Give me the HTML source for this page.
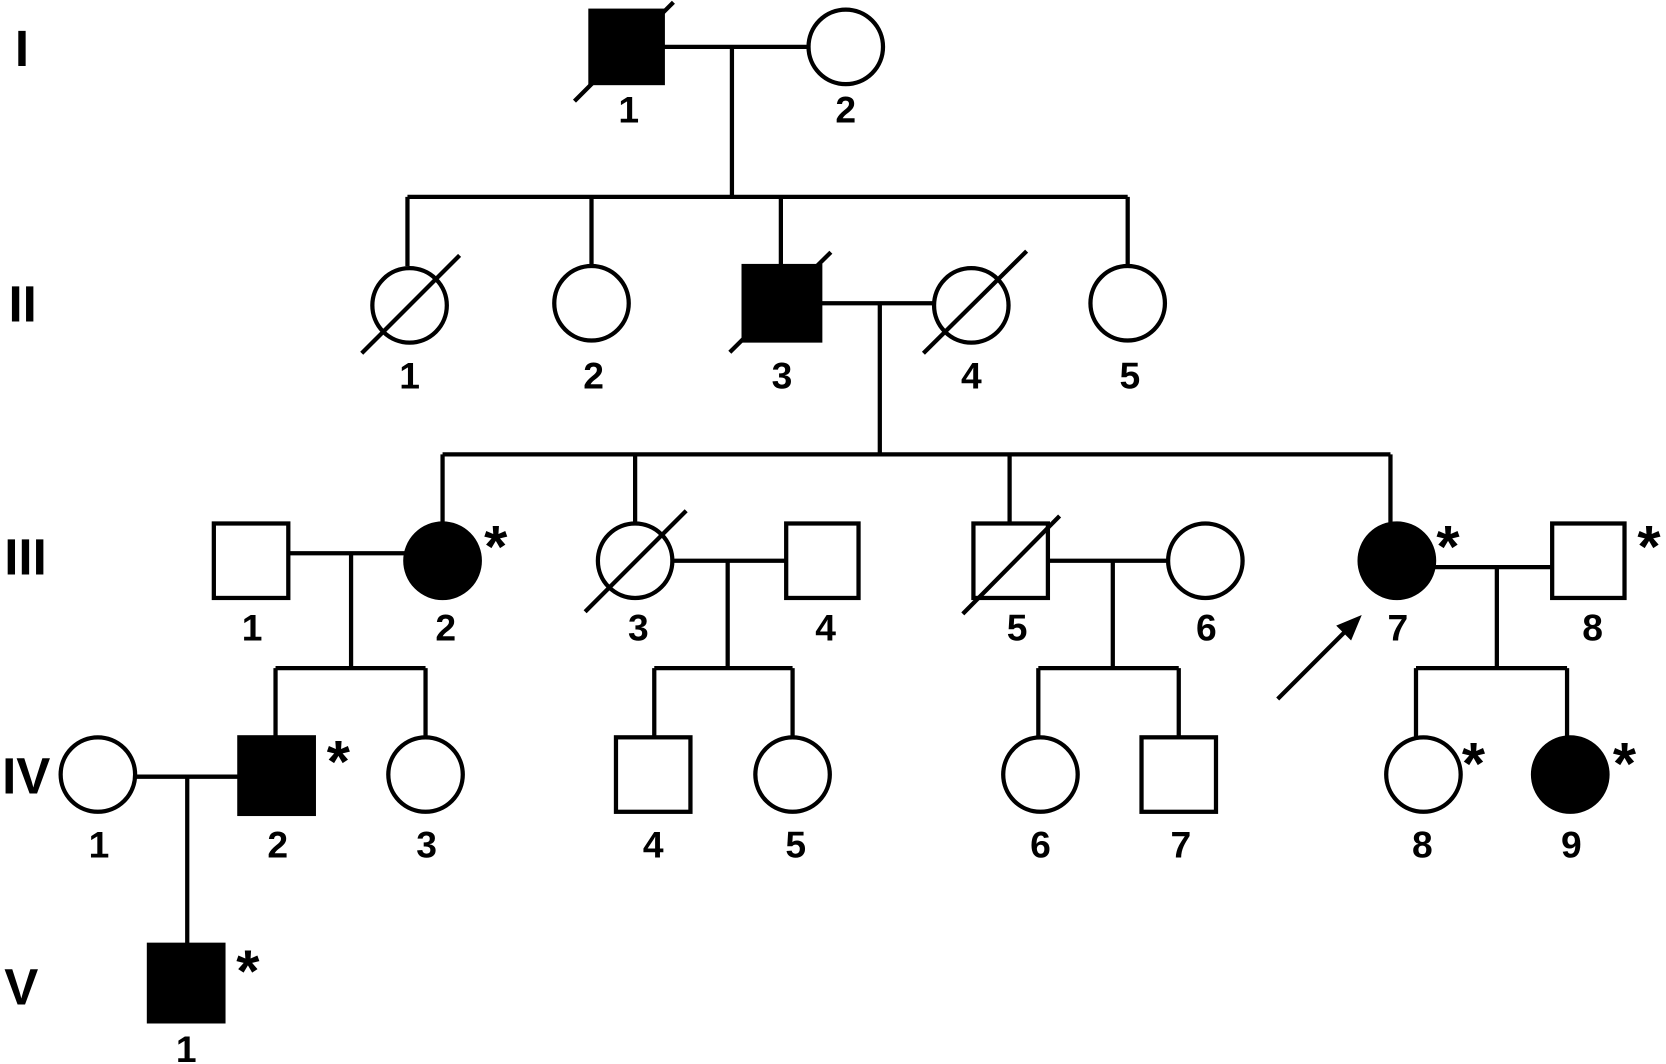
<!DOCTYPE html>
<html><head><meta charset="utf-8"><style>html,body{margin:0;padding:0;background:#fff}svg{display:block}</style></head>
<body>
<svg width="1666" height="1064" viewBox="0 0 1566 1000" xmlns="http://www.w3.org/2000/svg">
<g stroke="#000" stroke-width="4" fill="none">
<path d="M623 44H760 M688 44V185 M383 185H1060 M383 185V250 M556 185V250 M734 185V250 M1060 185V250"/>
<line x1="540" y1="95" x2="633" y2="2"/>
<rect x="555" y="10" width="68" height="68" fill="#000"/>
<circle cx="795" cy="44" r="35" fill="#fff"/>
<path d="M771 285H878 M827 285V427 M416 427H1307 M416 427V492 M597 427V492 M949 427V493 M1307 427V492"/>
<circle cx="385" cy="287" r="35" fill="#fff"/><line x1="340" y1="332" x2="432" y2="240"/>
<circle cx="556" cy="285" r="35" fill="#fff"/>
<line x1="686" y1="331" x2="781" y2="237"/>
<rect x="699" y="250" width="72" height="70" fill="#000"/>
<circle cx="913" cy="287" r="35" fill="#fff"/><line x1="868" y1="332" x2="965" y2="236"/>
<circle cx="1060" cy="285" r="35" fill="#fff"/>
<path d="M271 520H381 M330 520V628 M632 527H739 M684 527V628 M985 527H1098 M1046 527V628 M1348 533H1459 M1407 533V628"/>
<rect x="201" y="492" width="70" height="70" fill="#fff"/>
<circle cx="416" cy="527" r="35" fill="#000"/>
<circle cx="597" cy="527" r="35" fill="#fff"/><line x1="550" y1="575" x2="645" y2="480"/>
<rect x="739" y="492" width="68" height="70" fill="#fff"/>
<rect x="915" y="492" width="70" height="70" fill="#fff"/><line x1="905" y1="577" x2="996" y2="485"/>
<circle cx="1133" cy="527" r="35" fill="#fff"/>
<circle cx="1313" cy="527" r="35" fill="#000"/>
<rect x="1459" y="492" width="68" height="70" fill="#fff"/>
<path d="M259 628H400 M259 628V693 M400 628V693 M615 628H745 M615 628V693 M745 628V693 M976 628H1108 M976 628V693 M1108 628V693 M1331 628H1473 M1331 628V693 M1473 628V693"/>
<path d="M127 730H225 M176 730V888"/>
<circle cx="92" cy="728" r="35" fill="#fff"/>
<rect x="225" y="693" width="70" height="72" fill="#000"/>
<circle cx="400" cy="728" r="35" fill="#fff"/>
<rect x="579" y="693" width="70" height="70" fill="#fff"/>
<circle cx="745" cy="728" r="35" fill="#fff"/>
<circle cx="978" cy="728" r="35" fill="#fff"/>
<rect x="1073" y="693" width="70" height="70" fill="#fff"/>
<circle cx="1338" cy="728" r="35" fill="#fff"/>
<circle cx="1476" cy="728" r="35" fill="#000"/>
<rect x="140" y="888" width="70" height="72" fill="#000"/>
<line x1="1201" y1="657" x2="1266" y2="592"/>
</g>
<polygon points="1280,578 1256,588 1270,602" fill="#000"/>
<g font-family="Liberation Sans, sans-serif" font-weight="bold" font-size="48">
<text x="14" y="62">I</text><text x="8" y="302">II</text><text x="4" y="540">III</text><text x="2" y="746">IV</text><text x="4" y="944">V</text>
</g>
<g font-family="Liberation Sans, sans-serif" font-weight="bold" font-size="35" text-anchor="middle">
<text x="591" y="115">1</text><text x="795" y="115">2</text>
<text x="385" y="365">1</text><text x="558" y="365">2</text><text x="735" y="365">3</text><text x="913" y="365">4</text><text x="1062" y="365">5</text>
<text x="237" y="602">1</text><text x="419" y="602">2</text><text x="600" y="602">3</text><text x="776" y="602">4</text><text x="956" y="602">5</text><text x="1134" y="602">6</text><text x="1314" y="602">7</text><text x="1497" y="602">8</text>
<text x="93" y="806">1</text><text x="261" y="806">2</text><text x="401" y="806">3</text><text x="614" y="806">4</text><text x="748" y="806">5</text><text x="978" y="806">6</text><text x="1110" y="806">7</text><text x="1337" y="806">8</text><text x="1477" y="806">9</text>
<text x="175" y="998">1</text>
</g>
<g font-family="Liberation Sans, sans-serif" font-weight="bold" font-size="56" text-anchor="middle">
<text x="466" y="533">*</text><text x="1361" y="533">*</text><text x="1550" y="533">*</text>
<text x="318" y="735">*</text><text x="1385" y="737">*</text><text x="1527" y="737">*</text>
<text x="233" y="932">*</text>
</g>
</svg>
</body></html>
